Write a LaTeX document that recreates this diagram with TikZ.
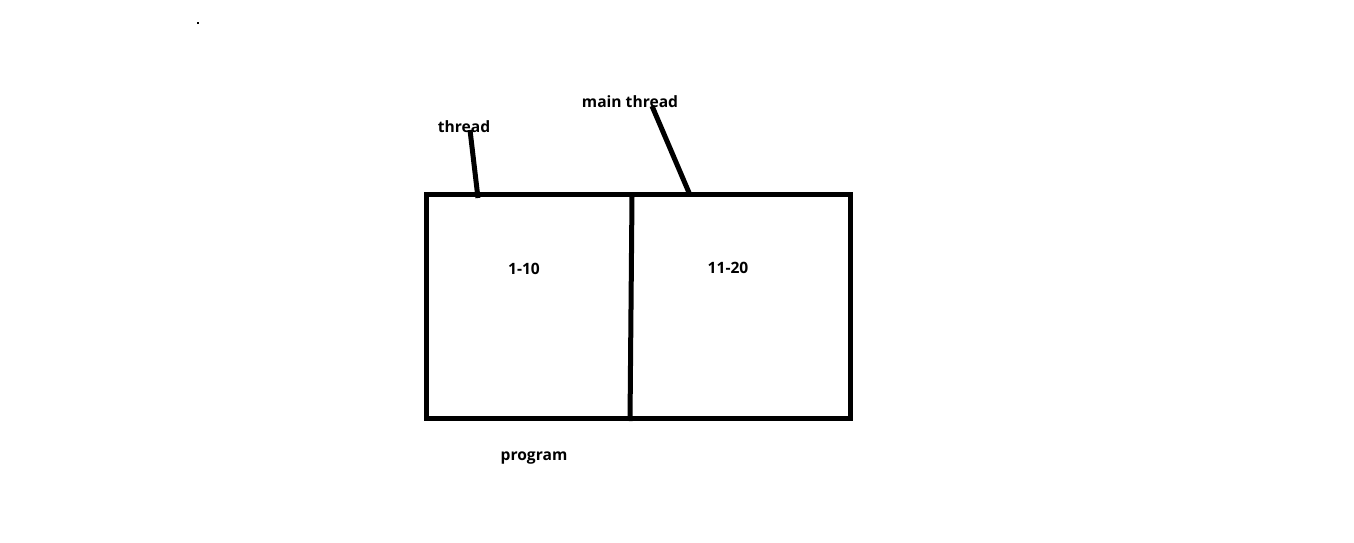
\documentclass[tikz,border=0pt]{standalone}
\usepackage{fontspec}
\setmainfont{Open Sans}
\begin{document}
\begin{tikzpicture}[x=1pt,y=-1pt,
  thick line/.style={line width=5pt},
  lbl/.style={font=\fontsize{15.6}{18}\selectfont\bfseries, inner sep=0pt}]
\useasboundingbox (0,0) rectangle (1354,542);
\fill (197,22) rectangle (199,24);
\draw[thick line] (426.5,194.5) rectangle (850.5,418.5);
\coordinate (dtop) at (632,196);
\coordinate (dbot) at (630,421);
\draw[thick line] (dtop) -- (dbot);
\node[lbl] (thr) at (464,127) {thread};
\node[lbl] (mthr) at (630,102) {main thread};
\node[lbl] (a) at (524,269) {1-10};
\node[lbl] (b) at (728,268) {11-20};
\node[lbl] (prog) at (534,458) {program};
\coordinate (t1) at (470,130);
\coordinate (t2) at (478,198);
\coordinate (m1) at (652,106);
\coordinate (m2) at (690,195);
\draw[thick line] (t1) -- (t2);
\draw[thick line] (m1) -- (m2);
\end{tikzpicture}
\end{document}
